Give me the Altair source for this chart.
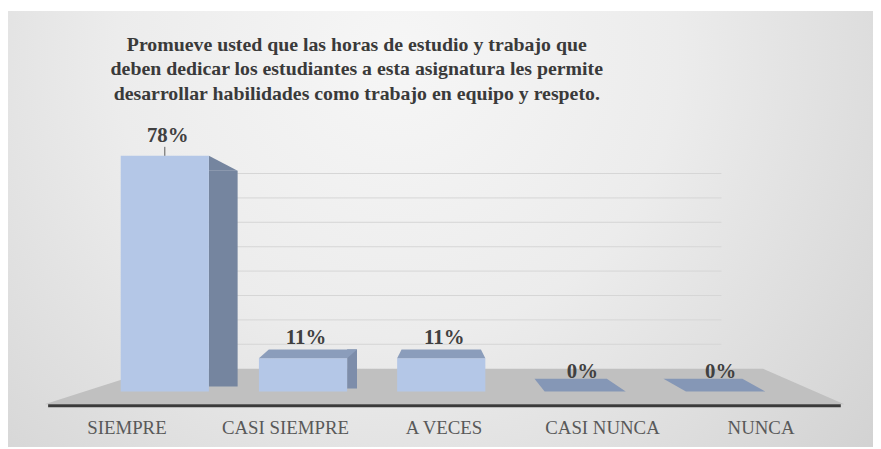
import altair as alt
import pandas as pd

# ---- data ----
categorias = ["SIEMPRE", "CASI SIEMPRE", "A VECES", "CASI NUNCA", "NUNCA"]
valores = [78, 11, 11, 0, 0]
etiquetas = ["78%", "11%", "11%", "0%", "0%"]
grid_vals = [10, 20, 30, 40, 50, 60, 70, 80]
titulo = [
    "Promueve usted que las horas de estudio y trabajo que",
    "deben dedicar los estudiantes a esta asignatura les permite",
    "desarrollar habilidades  como trabajo en equipo y respeto.",
]

df = pd.DataFrame({"cat": categorias, "v": valores, "lab": etiquetas})
one = pd.DataFrame({"a": [0]})

FRONT = "#b4c7e7"
SIDE = "#75859f"
SIDE2 = "#7d8daa"
TOP = "#8b9dbb"
TILE = "#8597b6"
FLOOR = "#c0c0c0"
SERIF = "Liberation Serif"

W, H = 800, 305

bar_x = alt.X("cat:N", sort=categorias,
              scale=alt.Scale(domain=categorias, range=[48.5, 746], paddingInner=0, paddingOuter=0),
              axis=None)
y_enc = alt.Y("v:Q", scale=alt.Scale(domain=[0, 100]), axis=None)

# background with radial gradient
bg = alt.Chart(one).mark_rect(
    color=alt.Gradient(
        gradient="radial",
        stops=[alt.GradientStop(color="#f6f6f6", offset=0),
               alt.GradientStop(color="#ececec", offset=0.45),
               alt.GradientStop(color="#d2d2d2", offset=1)],
        x1=0.45, y1=0.3, x2=0.45, y2=0.3, r1=0, r2=0.72,
    )
).encode(x=alt.value(-41), x2=alt.value(833), y=alt.value(-79), y2=alt.value(361))

# back-wall gridlines
grid = alt.Chart(pd.DataFrame({"g": grid_vals})).mark_rule(color="#d6d6d6", strokeWidth=1).encode(
    y=alt.Y("g:Q", scale=alt.Scale(domain=[0, 80], range=[282, 85]), axis=None),
    x=alt.value(150), x2=alt.value(680),
)

# floor (trapezoid)
floor_path = "M-1,0.0446L1,0.0446L0.7968,-0.0446L-0.7224,-0.0446Z"
floor = alt.Chart(one).mark_point(
    shape=floor_path, size=807 * 807, filled=True, opacity=1, strokeWidth=0, color=FLOOR
).encode(x=alt.value(400.5), y=alt.value(300))

# category axis on the front edge of the floor
axis_layer = alt.Chart(df).mark_bar(opacity=0).encode(
    x=alt.X("cat:N", sort=categorias,
            scale=alt.Scale(domain=categorias, paddingInner=0, paddingOuter=0),
            axis=alt.Axis(title=None, labelAngle=0, domainColor="#3a3a3a", domainWidth=3,
                          ticks=False, tickSize=0, grid=False, labelFont=SERIF,
                          labelFontSize=19, labelColor="#595959", labelPadding=28,
                          labelBaseline="alphabetic", offset=14, zindex=2)),
    y=y_enc,
)

front = alt.Chart(df).mark_bar(width=89, color=FRONT).encode(x=bar_x, y=y_enc)

side1 = alt.Chart(df).transform_filter(alt.datum.cat == "SIEMPRE").mark_bar(
    width=29, xOffset=59, yOffset=15, y2Offset=-5, color=SIDE
).encode(x=bar_x, y=y_enc, y2=alt.datum(0))

tri = alt.Chart(df).transform_filter(alt.datum.cat == "SIEMPRE").mark_point(
    shape="M-1,-0.517L1,0.517L-1,0.517Z", size=841, filled=True, opacity=1,
    strokeWidth=0, color=SIDE, xOffset=59, yOffset=7.5
).encode(x=bar_x, y=y_enc)

side2 = alt.Chart(df).transform_filter(alt.datum.cat == "CASI SIEMPRE").mark_bar(
    width=10, xOffset=49.5, yOffset=-9, y2Offset=-3, color=SIDE2
).encode(x=bar_x, y=y_enc, y2=alt.datum(0))

top_paths = [
    "M-1,0L1,0L1.225,-0.2L-0.775,-0.2Z",
    "M-1,0L1,0L0.9,-0.2L-0.9,-0.2Z",
    "M-0.79,0L1.05,0L0.62,-0.29L-1.02,-0.29Z",
    "M-0.72,0L1.08,0L0.56,-0.29L-1.23,-0.29Z",
]
tops = alt.Chart(df).transform_filter(
    alt.FieldOneOfPredicate(field="cat", oneOf=categorias[1:])
).mark_point(filled=True, opacity=1, strokeWidth=0, size=89 * 89).encode(
    x=bar_x, y=y_enc,
    shape=alt.Shape("cat:N", scale=alt.Scale(domain=categorias[1:], range=top_paths), legend=None),
    color=alt.Color("cat:N", scale=alt.Scale(domain=categorias[1:], range=[TOP, TOP, TILE, TILE]), legend=None),
)

text = alt.Chart(df).mark_text(
    dy=-14, dx=3, baseline="alphabetic", font=SERIF, fontWeight="bold", fontSize=21, color="#404040"
).encode(x=bar_x, y=y_enc, text="lab:N")

leader = alt.Chart(df).transform_filter(alt.datum.v > 50).mark_rule(
    color="#5a5a5a", strokeWidth=1, yOffset=-9
).encode(x=bar_x, y=y_enc, y2="v:Q")

chart = alt.layer(bg, grid, floor, axis_layer, side1, tri, side2, front, tops, text, leader).resolve_scale(
    x="independent", y="independent", shape="independent", color="independent"
).properties(
    width=W, height=H,
    title=alt.TitleParams(text=titulo, font=SERIF, fontSize=20, fontWeight="bold", color="#3a3a3a",
                          anchor="middle", frame="group", lineHeight=25, dx=-88, dy=98),
    autosize=alt.AutoSizeParams(type="none"),
    padding={"left": 40, "top": 80, "right": 33, "bottom": 56},
).configure_view(stroke=None).configure(background="white")

chart.save("out.html", embed_options={"renderer": "svg", "actions": False})
